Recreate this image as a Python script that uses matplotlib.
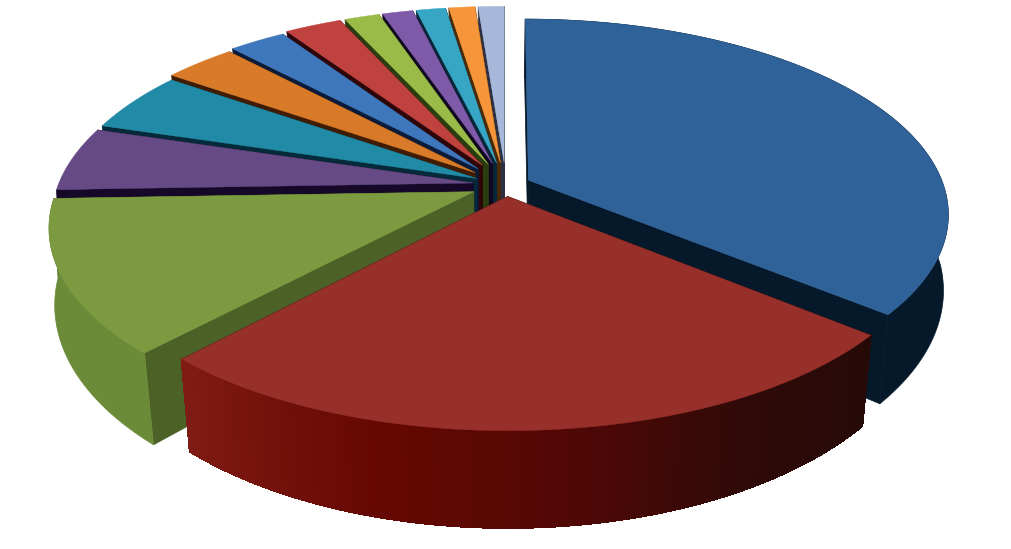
#!/usr/bin/env python
import numpy as np
import matplotlib
matplotlib.use('Agg')
import matplotlib.pyplot as plt
from matplotlib.patches import Polygon
from matplotlib.collections import PolyCollection

# slice sizes in percent
values = [36.0, 25.9, 12.55, 5.3, 5.0, 3.3, 2.6, 2.6, 1.6, 1.4, 1.35, 1.2, 1.2]
top_colors = ['#2f6299', '#97302a', '#7c9a3f', '#664a85', '#218aa6', '#d87a28',
              '#3f77bd', '#c0423f', '#9bbb48', '#7f5aa8', '#36a6c4', '#f7953a', '#a7b9db']
side_colors = ['#06192b', '#2b0a08', '#4b6126', '#150828', '#052a3a', '#3f1c03',
               '#0b1c3a', '#2e0508', '#2a3d0e', '#0f0820', '#07263a', '#4a2a06', '#2c3040']
rim_colors = ['#06192b', '#2b0a08', '#6c8b39']
# how far each slice is pulled out of the pie
explodes = [0.06, 0.06, 0.085, 0.08, 0.08, 0.10, 0.11, 0.12, 0.12, 0.12, 0.12, 0.12, 0.12]

# red front wall goes from dark brown on the right to brighter red on the left
red_angles = [130, 150, 175, 195, 223]
red_shades = [(0.15, 0.04, 0.03), (0.18, 0.04, 0.03), (0.33, 0.03, 0.02),
              (0.40, 0.03, 0.01), (0.50, 0.11, 0.08)]

cx, cy = 506, 185
rx, ry = 415, 190
k = 0.17


def project(a, r, m, e):
    # a: angle clockwise from 12 o'clock, r: radius, m: middle angle, e: pull out
    u = r * np.sin(a) + e * np.sin(m)
    v = -r * np.cos(a) - e * np.cos(m)
    s = 1 / (1 - k * v)
    return cx + rx * u * s, cy + ry * v * s, v


def lower(x, y, v):
    # bottom face sits lower and a bit narrower towards the front
    shrink = 0.992 - 0.022 * np.abs(v)
    return cx + (x - cx) * shrink, y + 78 + 18 * v


fig = plt.figure(figsize=(10.12, 5.49), dpi=100)
ax = fig.add_axes([0, 0, 1, 1])
ax.set_xlim(0, 1012)
ax.set_ylim(549, 0)
ax.axis('off')

edges = np.cumsum([0] + values) / sum(values) * 2 * np.pi
order = list(range(len(values) - 1, 1, -1)) + [0, 1]

for z, i in enumerate(order):
    a0, a1 = edges[i], edges[i + 1]
    m = (a0 + a1) / 2
    e = explodes[i]
    ang = np.linspace(a0, a1, max(int((a1 - a0) * 60), 6))
    x, y, v = project(ang, 1.0, m, e)
    xb, yb = lower(x, y, v)
    ax0, ay0, av0 = project(a0, 0.0, m, e)
    bx0, by0 = lower(ax0, ay0, av0)

    # the two straight inner walls
    for j in (0, -1):
        wall = [(ax0, ay0), (x[j], y[j]), (xb[j], yb[j]), (bx0, by0)]
        ax.add_patch(Polygon(wall, fc=side_colors[i], ec=side_colors[i], lw=0.5, zorder=z * 3))

    # outer wall, only the three big front slices show one
    if i == 1:
        quads = []
        cols = []
        for j in range(len(ang) - 1):
            quads.append([(x[j], y[j]), (x[j + 1], y[j + 1]), (xb[j + 1], yb[j + 1]), (xb[j], yb[j])])
            d = np.degrees(ang[j])
            cols.append([np.interp(d, red_angles, [c[n] for c in red_shades]) for n in range(3)])
        ax.add_collection(PolyCollection(quads, facecolors=cols, edgecolors=cols, linewidths=1.0,
                                         antialiaseds=False, zorder=z * 3 + 1))
    elif i < 3:
        outline = list(zip(x, y)) + list(zip(xb[::-1], yb[::-1]))
        ax.add_patch(Polygon(outline, fc=rim_colors[i], ec=rim_colors[i], lw=0.5, zorder=z * 3 + 1))

    # top face
    pts = [(ax0, ay0)] + list(zip(x, y))
    ax.add_patch(Polygon(pts, fc=top_colors[i], ec=top_colors[i], lw=0.3, zorder=z * 3 + 2))

fig.savefig('out.png', dpi=100)
